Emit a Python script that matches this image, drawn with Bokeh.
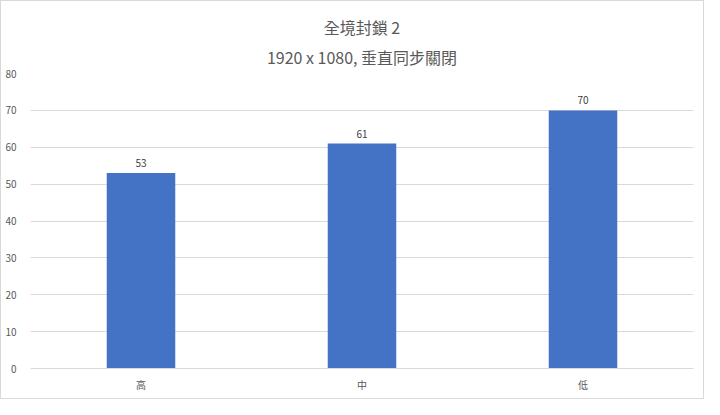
from bokeh.plotting import figure
from bokeh.models import ColumnDataSource, Title, LabelSet, FixedTicker
from bokeh.core.properties import value
from bokeh.embed import file_html
from bokeh.resources import INLINE

categories = ["高", "中", "低"]
values = [53, 61, 70]
y_ticks = [0, 10, 20, 30, 40, 50, 60, 70, 80]
title_main = "全境封鎖 2"
title_sub = "1920 x 1080, 垂直同步關閉"

FONT = "Noto Sans CJK TC"
GRAY = "#595959"

src = ColumnDataSource(dict(cat=categories, val=values, lbl=[str(v) for v in values]))

p = figure(width=704, height=399, x_range=categories, y_range=(0, 80),
           output_backend="svg", toolbar_location=None,
           min_border_left=29, min_border_right=12, min_border_top=72, min_border_bottom=32)
p.x_range.range_padding = 0

p.add_layout(Title(text=title_sub, align="center", text_font=FONT, text_font_size="16px",
                   text_color=GRAY, text_font_style="normal", standoff=9), "above")
p.add_layout(Title(text=title_main, align="center", text_font=FONT, text_font_size="16px",
                   text_color=GRAY, text_font_style="normal", standoff=0,
                   text_line_height=0.6), "above")

p.vbar(x="cat", top="val", width=0.31, source=src, color="#4472C4", line_color=None)

labels = LabelSet(x="cat", y="val", text="lbl", source=src, text_align="center",
                  y_offset=6, text_font=value(FONT), text_font_size=value("10px"),
                  text_color=value("#404040"))
p.add_layout(labels)

p.outline_line_color = None
p.xgrid.grid_line_color = None
p.ygrid.grid_line_color = "#D9D9D9"
p.yaxis.ticker = FixedTicker(ticks=y_ticks)
for ax in (p.xaxis, p.yaxis):
    ax.axis_line_color = None
    ax.major_tick_line_color = None
    ax.minor_tick_line_color = None
    ax.major_label_text_font = FONT
    ax.major_label_text_font_size = "10px"
    ax.major_label_text_color = GRAY
p.xaxis.axis_line_color = "#D9D9D9"
p.yaxis.major_label_standoff = 8
p.xaxis.major_label_standoff = 2
p.styles = {"border": "1px solid #D9D9D9"}

open("out.html", "w").write(file_html(p, INLINE))
